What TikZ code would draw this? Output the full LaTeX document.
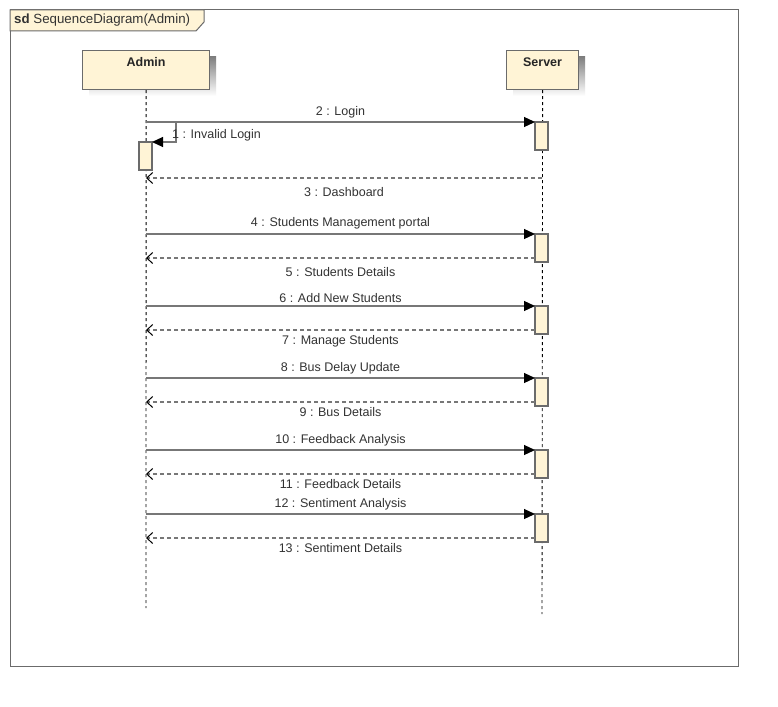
\documentclass[tikz,border=0pt]{standalone}
\usepackage{fontspec}
\setmainfont{Liberation Sans}
\usetikzlibrary{arrows.meta}

\definecolor{boxfill}{HTML}{FFF4D6}
\definecolor{boxline}{HTML}{6B6B6B}
\definecolor{msgline}{HTML}{777777}
\definecolor{shade}{HTML}{F3F3F3}

\tikzset{
  actor/.style={draw=boxline,fill=boxfill,line width=1.2pt,minimum height=39pt,anchor=north west},
  headtext/.style={font=\fontsize{12.5}{14}\selectfont\bfseries,text=black!85,inner sep=0pt},
  act/.style={draw=boxline,fill=boxfill,line width=1.2pt},
  lifeline/.style={black,line width=0.9pt,dash pattern=on 3pt off 3pt},
  msg/.style={msgline,line width=1.2pt,-{Triangle[length=11pt,width=10pt,color=black,fill=black]}},
  reply/.style={msgline,line width=1.2pt,dash pattern=on 4pt off 3pt,
    -{Straight Barb[length=6pt,width=11pt,line width=1pt,color=black]}},
  lbl/.style={font=\fontsize{12.5}{14}\selectfont,text=black!80,inner sep=0pt}
}

\begin{document}
\begin{tikzpicture}[x=1pt,y=-1pt]
  \useasboundingbox (0,0) rectangle (778,706);
  \fill[white] (0,0) rectangle (778,706);
  % frame
  \draw[boxline,line width=1pt] (10,10) rectangle (738,666);
  \draw[boxline,line width=1pt,fill=boxfill] (10,10) -- (204,10) -- (204,22) -- (196,31) -- (10,31) -- cycle;
  \node[lbl,anchor=west,font=\fontsize{13.3}{15}\selectfont] (title) at (14,20.5) {\textbf{sd}\ SequenceDiagram(Admin)};

  % lifeline heads
  \fill[shade] (89,57) rectangle (216,96);
  \fill[shade] (513,57) rectangle (585,96);
  \node[actor,minimum width=127pt] (admin) at (82,50) {};
  \node[actor,minimum width=72pt] (server) at (506,50) {};
  \node[headtext] (admintxt) at ([yshift=-12pt]admin.north) {Admin};
  \node[headtext] (servertxt) at ([yshift=-12pt]server.north) {Server};
  \coordinate (adminend) at (146,608);
  \coordinate (serverend) at (542,614);
  \draw[lifeline] (admin.south) -- (adminend);
  \draw[lifeline] (server.south) -- (serverend);

  % activations
  \draw[act] (139,142) rectangle (152,170);
  \foreach \y in {122,234,306,378,450,514}
    \draw[act] (535,\y) rectangle (548,\y+28);

  % messages
  \coordinate (a2) at (146,122); \coordinate (s2) at (535,122);
  \draw[msg] (a2) -- node[lbl,above=3pt] {2 : Login} (s2);
  \coordinate (a1) at (152,142);
  \draw[msg] (a2) -- (176,122) -- (176,142) -- (a1);
  \node[lbl,anchor=west] (m1) at (172,135.5) {1 : Invalid Login};
  \coordinate (s3) at (542,178); \coordinate (a3) at (146,178);
  \draw[reply] (s3) -- node[lbl,below=9pt] {3 : Dashboard} (a3);

  \coordinate (a4) at (146,234); \coordinate (s4) at (535,234);
  \draw[msg] (a4) -- node[lbl,above=4pt] {4 : Students Management portal} (s4);
  \coordinate (s5) at (535,258); \coordinate (a5) at (146,258);
  \draw[reply] (s5) -- node[lbl,below=9pt] {5 : Students Details} (a5);

  \coordinate (a6) at (146,306); \coordinate (s6) at (535,306);
  \draw[msg] (a6) -- node[lbl,above=3pt] {6 : Add New Students} (s6);
  \coordinate (s7) at (535,330); \coordinate (a7) at (146,330);
  \draw[reply] (s7) -- node[lbl,below=5pt] {7 : Manage Students} (a7);

  \coordinate (a8) at (146,378); \coordinate (s8) at (535,378);
  \draw[msg] (a8) -- node[lbl,above=3pt] {8 : Bus Delay Update} (s8);
  \coordinate (s9) at (535,402); \coordinate (a9) at (146,402);
  \draw[reply] (s9) -- node[lbl,below=5pt] {9 : Bus Details} (a9);

  \coordinate (a10) at (146,450); \coordinate (s10) at (535,450);
  \draw[msg] (a10) -- node[lbl,above=3pt] {10 : Feedback Analysis} (s10);
  \coordinate (s11) at (535,474); \coordinate (a11) at (146,474);
  \draw[reply] (s11) -- node[lbl,below=5pt] {11 : Feedback Details} (a11);

  \coordinate (a12) at (146,514); \coordinate (s12) at (535,514);
  \draw[msg] (a12) -- node[lbl,above=3pt] {12 : Sentiment Analysis} (s12);
  \coordinate (s13) at (535,538); \coordinate (a13) at (146,538);
  \draw[reply] (s13) -- node[lbl,below=5pt] {13 : Sentiment Details} (a13);
\end{tikzpicture}
\end{document}
